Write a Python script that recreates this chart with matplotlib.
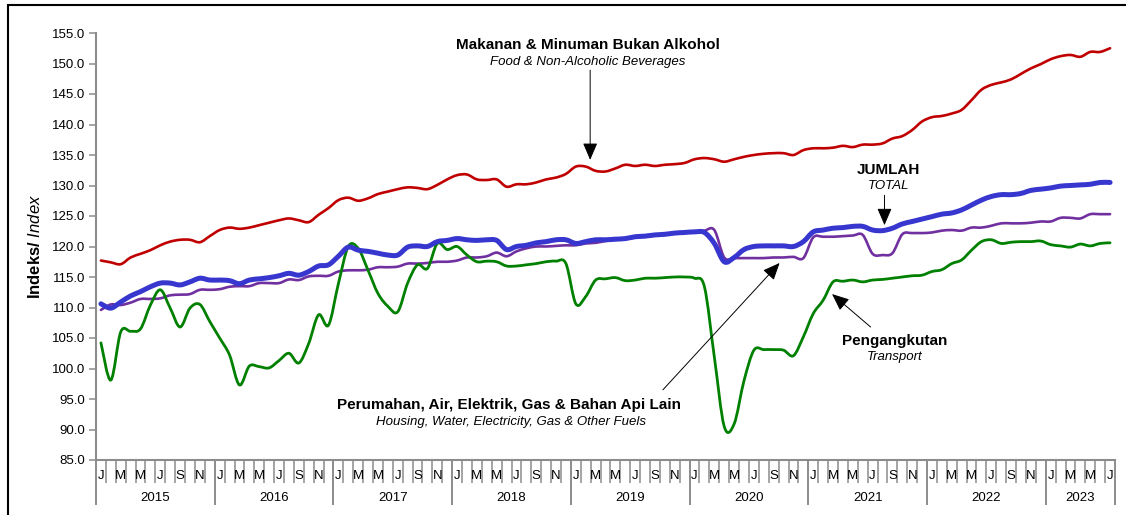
import numpy as np
import matplotlib
matplotlib.use("Agg")
from matplotlib import pyplot as plt
from matplotlib.patches import Rectangle, PathPatch
from matplotlib.path import Path

plt.rcParams["font.family"] = ["Liberation Sans", "DejaVu Sans"]
plt.rcParams["mathtext.fontset"] = "custom"
plt.rcParams["mathtext.bf"] = "Liberation Sans:bold"
plt.rcParams["mathtext.it"] = "Liberation Sans:italic"
plt.rcParams["mathtext.rm"] = "Liberation Sans"

# monthly index, Jan 2015 .. Jul 2023
years = ["2015", "2016", "2017", "2018", "2019", "2020", "2021", "2022", "2023"]
month_letters = ["J", "F", "M", "A", "M", "J", "J", "O", "S", "O", "N", "D"]

food = [117.7, 117.4, 117.1, 118.2, 118.8, 119.4, 120.2, 120.8, 121.1, 121.1, 120.7, 121.7,
        122.7, 123.1, 122.9, 123.1, 123.5, 123.9, 124.3, 124.6, 124.3, 124.0, 125.2, 126.3,
        127.6, 128.0, 127.5, 127.9, 128.6, 129.0, 129.4, 129.7, 129.6, 129.4, 130.1, 131.0,
        131.7, 131.8, 131.0, 130.9, 131.0, 129.8, 130.2, 130.2, 130.5, 131.0, 131.3, 131.9,
        133.1, 133.1, 132.4, 132.3, 132.8, 133.4, 133.2, 133.4, 133.2, 133.4, 133.5, 133.7,
        134.3, 134.5, 134.3, 133.9, 134.3, 134.7, 135.0, 135.2, 135.3, 135.3, 135.0, 135.8,
        136.1, 136.1, 136.2, 136.5, 136.3, 136.7, 136.7, 136.9, 137.7, 138.1, 139.1, 140.5,
        141.2, 141.4, 141.8, 142.4, 144.0, 145.7, 146.5, 146.9, 147.4, 148.3, 149.2, 149.9,
        150.7, 151.2, 151.4, 151.1, 151.9, 151.9, 152.5]

total = [110.6, 109.9, 110.9, 111.9, 112.6, 113.4, 114.0, 114.0, 113.7, 114.2, 114.8, 114.5,
         114.5, 114.4, 113.9, 114.5, 114.7, 114.9, 115.2, 115.6, 115.3, 115.9, 116.8, 117.0,
         118.4, 119.9, 119.4, 119.2, 118.9, 118.6, 118.6, 119.9, 120.1, 120.0, 120.8, 121.0,
         121.3, 121.1, 121.0, 121.1, 121.0, 119.5, 120.0, 120.2, 120.6, 120.8, 121.1, 121.1,
         120.5, 120.8, 121.1, 121.1, 121.2, 121.3, 121.6, 121.7, 121.9, 122.0, 122.2, 122.3,
         122.4, 122.3, 120.5, 117.5, 118.2, 119.5, 120.0, 120.1, 120.1, 120.1, 120.0, 120.8,
         122.4, 122.7, 123.0, 123.1, 123.3, 123.3, 122.7, 122.6, 123.0, 123.7, 124.1, 124.5,
         124.9, 125.3, 125.5, 126.0, 126.8, 127.6, 128.2, 128.5, 128.5, 128.7, 129.2, 129.4,
         129.6, 129.9, 130.0, 130.1, 130.2, 130.5, 130.5]

housing = [109.6, 110.5, 110.4, 110.8, 111.4, 111.4, 111.5, 112.0, 112.1, 112.2, 112.9, 112.9,
           113.0, 113.4, 113.5, 113.5, 114.0, 114.0, 114.0, 114.6, 114.5, 115.1, 115.2, 115.2,
           115.9, 116.1, 116.1, 116.2, 116.6, 116.6, 116.7, 117.2, 117.2, 117.3, 117.5, 117.5,
           117.7, 118.2, 118.2, 118.4, 119.0, 118.4, 119.2, 119.7, 120.0, 120.0, 120.1, 120.2,
           120.2, 120.5, 120.6, 120.9, 121.1, 121.2, 121.5, 121.6, 121.8, 122.0, 122.2, 122.3,
           122.4, 122.6, 122.7, 118.2, 118.1, 118.1, 118.1, 118.1, 118.2, 118.2, 118.3, 118.1,
           121.5, 121.6, 121.6, 121.7, 121.8, 121.9, 118.8, 118.6, 118.9, 122.0, 122.2, 122.2,
           122.3, 122.6, 122.7, 122.6, 123.1, 123.1, 123.4, 123.8, 123.8, 123.8, 123.9, 124.1,
           124.1, 124.7, 124.7, 124.6, 125.3, 125.3, 125.3]

transport = [104.2, 98.1, 106.0, 106.1, 106.5, 110.4, 112.9, 109.9, 106.8, 109.9, 110.5, 107.7,
             105.0, 102.2, 97.3, 100.4, 100.3, 100.1, 101.3, 102.5, 100.9, 104.1, 108.8, 107.1,
             113.9, 120.0, 119.7, 116.1, 112.3, 110.2, 109.3, 114.0, 117.0, 116.4, 120.5, 119.5,
             120.0, 118.6, 117.5, 117.6, 117.5, 116.8, 116.8, 117.0, 117.2, 117.5, 117.6, 117.2,
             110.6, 111.8, 114.5, 114.7, 114.9, 114.4, 114.5, 114.8, 114.8, 114.9, 115.0, 115.0,
             114.8, 113.4, 101.9, 90.5, 90.9, 98.0, 103.0, 103.1, 103.1, 103.0, 102.1, 105.2,
             109.0, 111.2, 114.2, 114.3, 114.5, 114.2, 114.5, 114.6, 114.8, 115.0, 115.2, 115.3,
             115.9, 116.2, 117.2, 117.8, 119.4, 120.8, 121.1, 120.5, 120.7, 120.8, 120.8, 120.9,
             120.3, 120.1, 119.9, 120.4, 120.1, 120.5, 120.6]

n = len(food)
x = np.arange(n)


def smooth_path(xs, ys):
    # cubic bezier through every point (catmull-rom style handles)
    pts = np.column_stack([xs, ys]).astype(float)
    ext = np.vstack([pts[0], pts, pts[-1]])
    verts = [pts[0]]
    codes = [Path.MOVETO]
    for k in range(len(pts) - 1):
        p0, p1, p2, p3 = ext[k], ext[k + 1], ext[k + 2], ext[k + 3]
        verts += [p1 + (p2 - p0) / 6, p2 - (p3 - p1) / 6, p2]
        codes += [Path.CURVE4] * 3
    return Path(verts, codes)


fig = plt.figure(figsize=(11.26, 5.15), dpi=100)
ax = fig.add_axes([96 / 1126, 1 - 460 / 515, (1115 - 96) / 1126, 427 / 515])

series = [(housing, "#7030A0", 1.9), (transport, "#008000", 2.0),
          (total, "#3737CF", 3.6), (food, "#C00000", 1.9)]
for ys, col, lw in series:
    ax.add_patch(PathPatch(smooth_path(x, ys), fill=False, ec=col, lw=lw,
                           joinstyle="round", capstyle="round"))

ax.set_ylim(85, 155)
ax.set_xlim(-0.5, n - 0.5)
ax.set_yticks(np.arange(85, 156, 5))
ax.set_yticklabels([f"{v:.1f}" for v in np.arange(85, 156, 5)], fontsize=9.5)

for s in ["top", "right"]:
    ax.spines[s].set_visible(False)
for s in ["left", "bottom"]:
    ax.spines[s].set_color("#8C8C8C")
    ax.spines[s].set_linewidth(1.5)

ax.tick_params(axis="y", direction="out", length=5, width=1.1, color="#8C8C8C", pad=3)

# month boundaries (minor) and year boundaries (major)
year_edges = list(np.arange(-0.5, n, 12)) + [n - 0.5]
ax.set_xticks(year_edges)
ax.set_xticks(np.arange(-0.5, n, 1), minor=True)
ax.set_xticklabels([])
ax.tick_params(axis="x", which="major", direction="out", length=32.5, width=1.4, color="#8C8C8C")
ax.tick_params(axis="x", which="minor", direction="out", length=16.5, width=1.1, color="#8C8C8C")

trans = ax.get_xaxis_transform()
for i in range(0, n, 2):
    ax.text(i, -0.037, month_letters[i % 12], transform=trans, ha="center", va="center",
            fontsize=9.5)
for k, yr in enumerate(years):
    lo = year_edges[k]
    hi = year_edges[k + 1]
    ax.text((lo + hi) / 2, -0.088, yr, transform=trans, ha="center", va="center", fontsize=9.5)

ax.set_ylabel(r"$\bf{Indeks/}$ $\it{Index}$", fontsize=12, labelpad=6)

arrow = dict(arrowstyle="-|>,head_length=0.7,head_width=0.3", color="black", lw=0.7,
             mutation_scale=15, shrinkA=0, shrinkB=0)

# food
ax.text(49.2, 153.0, "Makanan & Minuman Bukan Alkohol", ha="center", va="center",
        fontsize=11, fontweight="bold")
ax.text(49.2, 150.2, "Food & Non-Alcoholic Beverages", ha="center", va="center",
        fontsize=9.5, style="italic")
ax.annotate("", xy=(49.45, food[49] + 1.1), xytext=(49.45, 148.9), arrowprops=arrow)

# total
ax.text(79.6, 132.5, "JUMLAH", ha="center", va="center", fontsize=11, fontweight="bold")
ax.text(79.6, 129.9, "TOTAL", ha="center", va="center", fontsize=9.5, style="italic")
ax.annotate("", xy=(79.2, total[79] + 0.9), xytext=(79.2, 128.4), arrowprops=arrow)

# housing
ax.text(41.2, 94.0, "Perumahan, Air, Elektrik, Gas & Bahan Api Lain", ha="center", va="center",
        fontsize=11, fontweight="bold")
ax.text(41.4, 91.3, "Housing, Water, Electricity, Gas & Other Fuels", ha="center", va="center",
        fontsize=9.5, style="italic")
ax.annotate("", xy=(68.6, housing[69] - 0.9), xytext=(56.8, 96.5), arrowprops=arrow)

# transport
ax.text(80.2, 104.5, "Pengangkutan", ha="center", va="center", fontsize=11, fontweight="bold")
ax.text(80.2, 101.9, "Transport", ha="center", va="center", fontsize=9.5, style="italic")
ax.annotate("", xy=(73.9, transport[74] - 2.0), xytext=(77.8, 106.8), arrowprops=arrow)

# outer frame
fig.add_artist(Rectangle((8 / 1126, -0.05), 1.2, (510 / 515) + 0.05, transform=fig.transFigure,
                         fill=False, ec="black", lw=1.5))

fig.savefig("out.png", dpi=100)
